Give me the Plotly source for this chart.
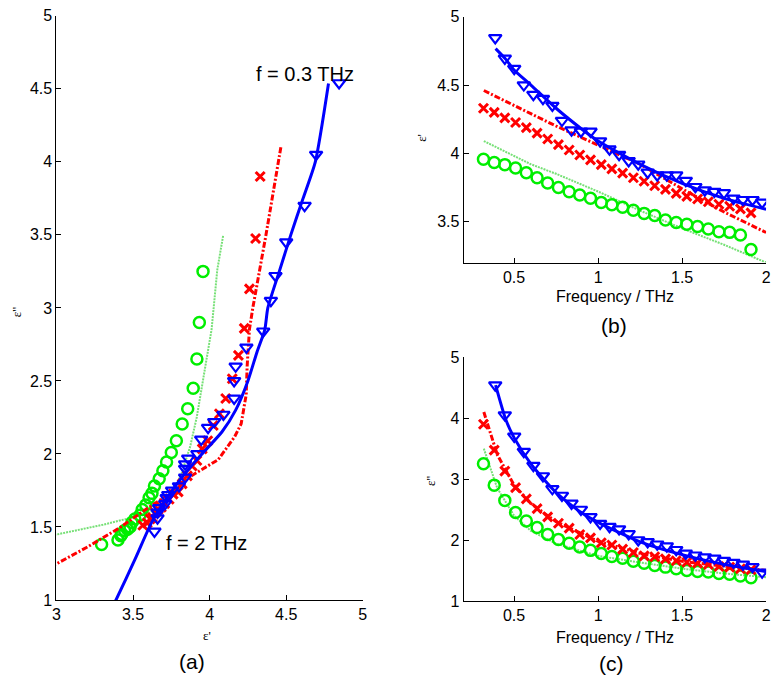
import plotly.graph_objects as go

# ---------------- data ----------------
# red / green measurement frequencies (THz)
freq_rg = [0.318, 0.382, 0.445, 0.509, 0.573, 0.637, 0.700, 0.764, 0.828, 0.891,
           0.955, 1.019, 1.082, 1.146, 1.210, 1.274, 1.337, 1.401, 1.465, 1.528,
           1.592, 1.656, 1.719, 1.783, 1.847, 1.910]
# blue measurement frequencies (THz)
freq_b = [0.388, 0.445, 0.501, 0.558, 0.615, 0.672, 0.728, 0.785, 0.842, 0.898,
          0.955, 1.012, 1.068, 1.125, 1.182, 1.239, 1.295, 1.352, 1.409, 1.465,
          1.522, 1.579, 1.635, 1.692, 1.749, 1.806, 1.862, 1.919, 1.976]

green_e1 = [3.957, 3.933, 3.917, 3.893, 3.857, 3.821, 3.783, 3.750, 3.719, 3.695,
            3.671, 3.640, 3.624, 3.605, 3.583, 3.560, 3.545, 3.512, 3.493, 3.481,
            3.464, 3.445, 3.426, 3.421, 3.402, 3.295]
green_e2 = [3.25, 2.90, 2.65, 2.45, 2.31, 2.205, 2.09, 2.01, 1.945, 1.885,
            1.83, 1.78, 1.73, 1.70, 1.65, 1.62, 1.58, 1.555, 1.53, 1.50,
            1.485, 1.475, 1.45, 1.44, 1.41, 1.38]
red_e1 = [4.33, 4.30, 4.26, 4.226, 4.188, 4.148, 4.105, 4.064, 4.024, 3.988,
          3.952, 3.917, 3.886, 3.855, 3.821, 3.795, 3.762, 3.736, 3.707, 3.685,
          3.665, 3.645, 3.627, 3.612, 3.593, 3.564]
red_e2 = [3.90, 3.475, 3.13, 2.86, 2.675, 2.515, 2.38, 2.275, 2.195, 2.09,
          2.035, 1.955, 1.917, 1.85, 1.795, 1.74, 1.725, 1.69, 1.66, 1.635,
          1.62, 1.597, 1.565, 1.555, 1.528, 1.512]
blue_e1 = [4.845, 4.695, 4.62, 4.50, 4.43, 4.40, 4.35, 4.24, 4.17, 4.16,
           4.16, 4.09, 4.03, 3.99, 3.945, 3.92, 3.86, 3.84, 3.84, 3.84,
           3.80, 3.755, 3.73, 3.72, 3.71, 3.67, 3.66, 3.66, 3.64]
blue_e2 = [4.54, 4.05, 3.70, 3.45, 3.22, 3.05, 2.84, 2.73, 2.60, 2.50,
           2.38, 2.27, 2.22, 2.18, 2.10, 2.00, 1.97, 1.93, 1.90, 1.84,
           1.78, 1.75, 1.72, 1.70, 1.66, 1.63, 1.60, 1.56, 1.47]

# model curves vs frequency (panels b, c)
fit_freq_b = [0.39, 0.45, 0.5, 0.6, 0.75, 0.9, 1.0, 1.25, 1.5, 1.75, 2.0]
fit_blue_e1 = [4.767, 4.69, 4.61, 4.50, 4.33, 4.18, 4.09, 3.92, 3.78, 3.67, 3.59]
fit_blue_e2 = [4.54, 3.98, 3.68, 3.25, 2.78, 2.45, 2.29, 1.97, 1.76, 1.60, 1.48]
fit_freq_rg = [0.32, 0.4, 0.5, 0.6, 0.75, 1.0, 1.25, 1.5, 1.75, 2.0]
fit_red_e1 = [4.46, 4.41, 4.35, 4.29, 4.20, 4.06, 3.92, 3.74, 3.57, 3.42]
fit_red_e2 = [4.10, 3.40, 2.90, 2.60, 2.30, 1.98, 1.78, 1.65, 1.57, 1.50]
fit_green_e1 = [4.09, 4.04, 3.98, 3.92, 3.85, 3.72, 3.58, 3.45, 3.33, 3.20]
fit_green_e2 = [3.50, 2.85, 2.40, 2.15, 1.94, 1.74, 1.63, 1.53, 1.45, 1.39]

# model curves in the complex plane (panel a, wider frequency span)
cp_blue_e1 = [4.776, 4.69, 4.61, 4.53, 4.455, 4.38, 4.36, 4.31, 4.25, 4.17,
              4.08, 3.95, 3.85, 3.776, 3.626, 3.518, 3.389, 3.35]
cp_blue_e2 = [4.536, 4.0, 3.75, 3.5, 3.25, 3.0, 2.85, 2.7, 2.5, 2.3,
              2.15, 2.0, 1.88, 1.78, 1.54, 1.29, 1.0, 0.92]
cp_red_e1 = [4.465, 4.368, 4.282, 4.26, 4.245, 4.239, 4.206, 4.163, 4.056, 3.948,
             3.862, 3.69, 3.561, 3.411, 3.196, 3.0, 2.95]
cp_red_e2 = [4.10, 3.5, 3.0, 2.853, 2.6, 2.407, 2.206, 2.117, 1.961, 1.894,
             1.838, 1.694, 1.604, 1.493, 1.359, 1.247, 1.22]
cp_green_e1 = [4.088, 4.05, 4.013, 3.948, 3.916, 3.873, 3.819, 3.755, 3.647, 3.518,
               3.303, 3.0, 2.95]
cp_green_e2 = [3.493, 3.26, 2.853, 2.43, 2.251, 2.05, 1.872, 1.716, 1.615, 1.571,
               1.515, 1.448, 1.44]

# ---------------- styles ----------------
BLUE = "#0000FF"
RED = "#FF0000"
GREEN = "#00EE00"
GREEN_LINE = "#77E077"
FONT = "Arial, Liberation Sans, sans-serif"
SERIF = "Liberation Serif, Times New Roman, serif"

blue_line = dict(color=BLUE, width=3, shape="spline", smoothing=0.6)
red_line = dict(color=RED, width=3, dash="6px,2px,2px,2px")
green_line = dict(color=GREEN_LINE, width=2, dash="2px,1px")
blue_mk = dict(symbol="triangle-down-open", size=11, color=BLUE, line=dict(color=BLUE, width=2.2))
red_mk = dict(symbol="x-thin-open", size=9, color=RED, line=dict(color=RED, width=3))
green_mk = dict(symbol="circle-open", size=11, color=GREEN, line=dict(color=GREEN, width=2.5))

fig = go.Figure()

panels = [
    ("x", "y", cp_green_e1, cp_green_e2, cp_red_e1, cp_red_e2, cp_blue_e1, cp_blue_e2,
     green_e1, green_e2, red_e1, red_e2, blue_e1, blue_e2),
    ("x2", "y2", fit_freq_rg, fit_green_e1, fit_freq_rg, fit_red_e1, fit_freq_b, fit_blue_e1,
     freq_rg, green_e1, freq_rg, red_e1, freq_b, blue_e1),
    ("x3", "y3", fit_freq_rg, fit_green_e2, fit_freq_rg, fit_red_e2, fit_freq_b, fit_blue_e2,
     freq_rg, green_e2, freq_rg, red_e2, freq_b, blue_e2),
]
for (xa, ya, gx, gy, rx, ry, bx, by, mgx, mgy, mrx, mry, mbx, mby) in panels:
    fig.add_trace(go.Scatter(x=gx, y=gy, mode="lines", line=green_line, xaxis=xa, yaxis=ya, showlegend=False))
    fig.add_trace(go.Scatter(x=mgx, y=mgy, mode="markers", marker=green_mk, xaxis=xa, yaxis=ya, showlegend=False))
    fig.add_trace(go.Scatter(x=mrx, y=mry, mode="markers", marker=red_mk, xaxis=xa, yaxis=ya, showlegend=False))
    fig.add_trace(go.Scatter(x=rx, y=ry, mode="lines", line=red_line, xaxis=xa, yaxis=ya, showlegend=False))
    fig.add_trace(go.Scatter(x=mbx, y=mby, mode="markers", marker=blue_mk, xaxis=xa, yaxis=ya, showlegend=False))
    fig.add_trace(go.Scatter(x=bx, y=by, mode="lines", line=blue_line, xaxis=xa, yaxis=ya, showlegend=False))

W, H = 782, 687

def px_x(p):
    return p / W

def px_y(p):
    return 1 - p / H

axis_common = dict(showline=True, linecolor="black", linewidth=1, ticks="inside", ticklen=5,
                   tickcolor="black", showgrid=False, zeroline=False, mirror=False,
                   tickfont=dict(family=FONT, size=16, color="black"))

fig.update_layout(
    autosize=True,
    margin=dict(l=0, r=0, t=0, b=0),
    paper_bgcolor="white", plot_bgcolor="white",
    xaxis=dict(domain=[px_x(53), px_x(363)], range=[3, 5], tickvals=[3, 3.5, 4, 4.5, 5],
               ticktext=["3", "3.5", "4", "4.5", "5"], anchor="y", **axis_common),
    yaxis=dict(domain=[px_y(607), px_y(8)], range=[1, 5], tickvals=[1, 1.5, 2, 2.5, 3, 3.5, 4, 4.5, 5],
               ticktext=["1", "1.5", "2", "2.5", "3", "3.5", "4", "4.5", "5"], anchor="x", **axis_common),
    xaxis2=dict(domain=[px_x(465), px_x(771)], range=[0.2, 2], tickvals=[0.5, 1, 1.5, 2],
                ticktext=["0.5", "1", "1.5", "2"], anchor="y2", **axis_common),
    yaxis2=dict(domain=[px_y(261), px_y(9)], range=[3.2, 5], tickvals=[3.5, 4, 4.5, 5],
                ticktext=["3.5", "4", "4.5", "5"], anchor="x2", **axis_common),
    xaxis3=dict(domain=[px_x(465), px_x(771)], range=[0.2, 2], tickvals=[0.5, 1, 1.5, 2],
                ticktext=["0.5", "1", "1.5", "2"], anchor="y3", **axis_common),
    yaxis3=dict(domain=[px_y(608), px_y(358)], range=[1, 5], tickvals=[1, 2, 3, 4, 5],
                ticktext=["1", "2", "3", "4", "5"], anchor="x3", **axis_common),
)

def ann(text, x, y, size, family=FONT, angle=0, xref="paper", yref="paper", xanchor="center"):
    fig.add_annotation(text=text, x=x, y=y, xref=xref, yref=yref, showarrow=False,
                       textangle=angle, xanchor=xanchor, yanchor="middle",
                       font=dict(family=family, size=size, color="black"))

# panel (a) texts
ann("f = 0.3 THz", 4.29, 4.6, 20, xref="x", yref="y", xanchor="left")
ann("f = 2 THz", 3.70, 1.39, 20, xref="x", yref="y", xanchor="left")
ann("ε''", px_x(12), px_y(312), 13, family=SERIF, angle=-90)
ann("ε'", px_x(205), px_y(643), 13, family=SERIF)
ann("(a)", px_x(190), px_y(670), 21)
# panel (b)
ann("ε'", px_x(423), px_y(133), 13, family=SERIF, angle=-90)
ann("Frequency / THz", px_x(618), px_y(296), 16)
ann("(b)", px_x(617), px_y(326), 21)
# panel (c)
ann("ε''", px_x(432), px_y(485), 13, family=SERIF, angle=-90)
ann("Frequency / THz", px_x(618), px_y(645), 16)
ann("(c)", px_x(615), px_y(672), 21)

fig.write_html("out.html", default_width="100vw", default_height="100vh",
               config={"displayModeBar": False, "responsive": True},
               post_script="document.body.style.margin='0';document.body.style.overflow='hidden';")
